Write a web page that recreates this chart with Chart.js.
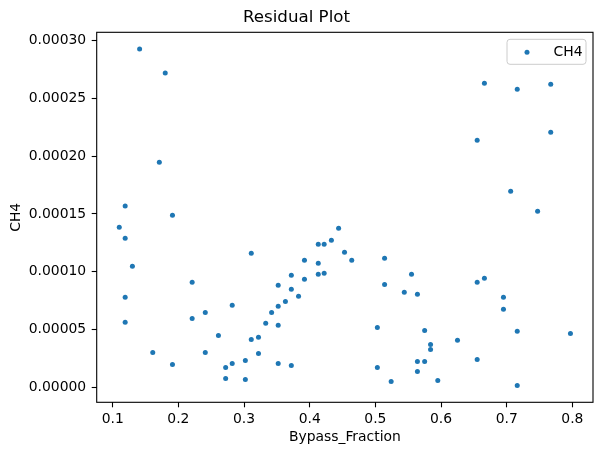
<!DOCTYPE html>
<html>
<head>
<meta charset="utf-8">
<title>Residual Plot</title>
<script src="https://cdn.jsdelivr.net/npm/chart.js@4.4.1/dist/chart.umd.min.js"></script>
<style>
  body { margin: 0; background: #ffffff; }
  canvas { display: block; }
</style>
</head>
<body>
<canvas id="residualChart" width="602" height="455"></canvas>
<script>
// Data
const bypassFraction = [
  0.110, 0.119, 0.119, 0.119, 0.119, 0.130, 0.141, 0.161, 0.171, 0.180,
  0.191, 0.191, 0.221, 0.221, 0.241, 0.241, 0.261, 0.272, 0.272, 0.282,
  0.282, 0.302, 0.302, 0.311, 0.311, 0.322, 0.322, 0.333, 0.342, 0.352,
  0.352, 0.352, 0.352, 0.363, 0.372, 0.372, 0.372, 0.383, 0.392, 0.392,
  0.413, 0.413, 0.413, 0.422, 0.422, 0.433, 0.444, 0.453, 0.464, 0.503,
  0.503, 0.514, 0.514, 0.524, 0.544, 0.555, 0.564, 0.564, 0.564, 0.575,
  0.575, 0.584, 0.584, 0.595, 0.625, 0.655, 0.655, 0.655, 0.666, 0.666,
  0.695, 0.695, 0.706, 0.716, 0.716, 0.716, 0.747, 0.767, 0.767, 0.797
];
const ch4Residual = [
  0.0001385, 0.0001568, 0.0001290, 0.0000779, 0.0000563, 0.0001047, 0.0002925, 0.0000303, 0.0001947, 0.0002718,
  0.0001489, 0.0000199, 0.0000909, 0.0000597, 0.0000649, 0.0000303, 0.0000450, 0.0000173, 0.0000078, 0.0000710,
  0.0000208, 0.0000234, 0.0000069, 0.0001160, 0.0000415, 0.0000433, 0.0000294, 0.0000554, 0.0000649, 0.0000883,
  0.0000701, 0.0000537, 0.0000208, 0.0000744, 0.0000969, 0.0000848, 0.0000190, 0.0000788, 0.0001100, 0.0000935,
  0.0001238, 0.0001073, 0.0000978, 0.0001238, 0.0000987, 0.0001272, 0.0001376, 0.0001168, 0.0001100, 0.0000519,
  0.0000173, 0.0001117, 0.0000891, 0.0000052, 0.0000822, 0.0000978, 0.0000805, 0.0000225, 0.0000138, 0.0000493,
  0.0000225, 0.0000372, 0.0000329, 0.0000061, 0.0000407, 0.0000909, 0.0000242, 0.0002138, 0.0000943, 0.0002631,
  0.0000779, 0.0000675, 0.0001696, 0.0000485, 0.0000017, 0.0002579, 0.0001523, 0.0002622, 0.0002207, 0.0000467
];
const xTicks = [0.1, 0.2, 0.3, 0.4, 0.5, 0.6, 0.7, 0.8];
const yTicks = [0.00000, 0.00005, 0.00010, 0.00015, 0.00020, 0.00025, 0.00030];

const seriesLabel = 'CH4';
const pointColor = '#1f77b4';
const fontFamily = '"DejaVu Sans", Verdana, sans-serif';

// matplotlib style 5% margins around the data
function paddedRange(values) {
  const lo = Math.min(...values);
  const hi = Math.max(...values);
  const pad = (hi - lo) * 0.05;
  return [lo - pad, hi + pad];
}
const [xMin, xMax] = paddedRange(bypassFraction);
const [yMin, yMax] = paddedRange(ch4Residual);

const points = bypassFraction.map((x, i) => ({ x: x, y: ch4Residual[i] }));

// Frame around the plot area plus an inset legend in the upper right
const framePlugin = {
  id: 'frameAndLegend',
  afterDraw(chart) {
    const ctx = chart.ctx;
    const area = chart.chartArea;
    ctx.save();
    ctx.strokeStyle = '#000000';
    ctx.lineWidth = 1.1;
    ctx.strokeRect(area.left, area.top, area.right - area.left, area.bottom - area.top);

    // legend box
    const boxW = 79, boxH = 25;
    const boxX = area.right - 7 - boxW;
    const boxY = area.top + 7;
    const r = 3;
    ctx.beginPath();
    ctx.moveTo(boxX + r, boxY);
    ctx.lineTo(boxX + boxW - r, boxY);
    ctx.arcTo(boxX + boxW, boxY, boxX + boxW, boxY + r, r);
    ctx.lineTo(boxX + boxW, boxY + boxH - r);
    ctx.arcTo(boxX + boxW, boxY + boxH, boxX + boxW - r, boxY + boxH, r);
    ctx.lineTo(boxX + r, boxY + boxH);
    ctx.arcTo(boxX, boxY + boxH, boxX, boxY + boxH - r, r);
    ctx.lineTo(boxX, boxY + r);
    ctx.arcTo(boxX, boxY, boxX + r, boxY, r);
    ctx.closePath();
    ctx.fillStyle = 'rgba(255,255,255,0.8)';
    ctx.fill();
    ctx.strokeStyle = '#cccccc';
    ctx.lineWidth = 1;
    ctx.stroke();

    const midY = boxY + boxH / 2 + 0.5;
    ctx.beginPath();
    ctx.arc(boxX + 20, midY, 2.5, 0, Math.PI * 2);
    ctx.fillStyle = pointColor;
    ctx.fill();

    ctx.fillStyle = '#000000';
    ctx.font = '13.9px ' + fontFamily;
    ctx.textAlign = 'left';
    ctx.textBaseline = 'middle';
    ctx.fillText(seriesLabel, boxX + 46.5, midY);
    ctx.restore();
  }
};

new Chart(document.getElementById('residualChart'), {
  type: 'scatter',
  data: {
    datasets: [{
      label: seriesLabel,
      data: points,
      backgroundColor: pointColor,
      borderWidth: 0,
      pointRadius: 2.5,
      pointHoverRadius: 2.5
    }]
  },
  options: {
    responsive: false,
    animation: false,
    devicePixelRatio: 1,
    layout: { padding: { left: 0, right: 9, top: 0, bottom: 0 } },
    plugins: {
      legend: { display: false },
      tooltip: { enabled: false },
      title: {
        display: true,
        text: 'Residual Plot',
        color: '#000000',
        font: { family: fontFamily, size: 16.67, weight: 'normal', lineHeight: 1.2 },
        padding: { top: 7.3, bottom: 5 }
      }
    },
    scales: {
      x: {
        type: 'linear',
        min: xMin,
        max: xMax,
        afterBuildTicks: axis => { axis.ticks = xTicks.map(v => ({ value: v })); },
        afterFit: axis => { axis.height = 52.7; },
        border: { display: false },
        grid: { drawOnChartArea: false, drawTicks: true, tickLength: 5, tickColor: '#000000', tickWidth: 1.1 },
        ticks: {
          color: '#000000',
          padding: 3.4,
          maxRotation: 0,
          font: { family: fontFamily, size: 13.9 },
          callback: v => v.toFixed(1)
        },
        title: {
          display: true,
          text: 'Bypass_Fraction',
          color: '#000000',
          font: { family: fontFamily, size: 13.9 },
          padding: { top: 9, bottom: 9 }
        }
      },
      y: {
        type: 'linear',
        min: yMin,
        max: yMax,
        afterBuildTicks: axis => { axis.ticks = yTicks.map(v => ({ value: v })); },
        afterFit: axis => { axis.width = 96.7; },
        border: { display: false },
        grid: { drawOnChartArea: false, drawTicks: true, tickLength: 5, tickColor: '#000000', tickWidth: 1.1 },
        ticks: {
          color: '#000000',
          padding: 5.5,
          font: { family: fontFamily, size: 13.9 },
          callback: v => v.toFixed(5)
        },
        title: {
          display: true,
          text: 'CH4',
          color: '#000000',
          font: { family: fontFamily, size: 13.9 },
          padding: { top: 7.7, bottom: 7.7 }
        }
      }
    }
  },
  plugins: [framePlugin]
});
</script>
</body>
</html>
